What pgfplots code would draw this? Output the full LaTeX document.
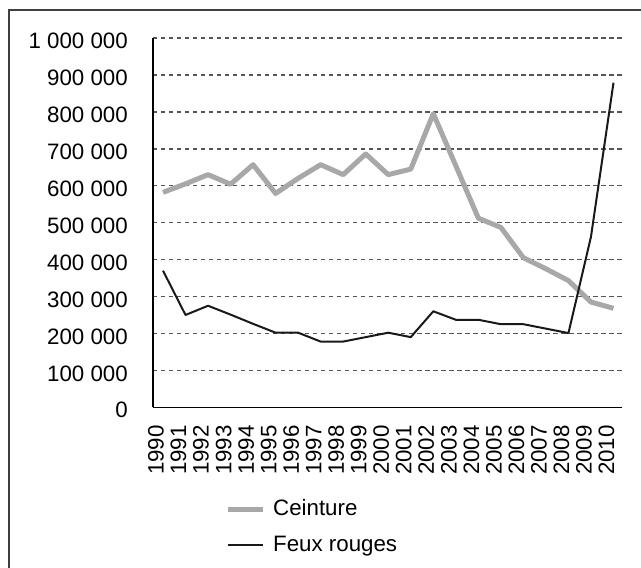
\documentclass[border=0pt]{standalone}
\usepackage{pgfplots}
\pgfplotsset{compat=1.18}
\usepackage{fontspec}
\setmainfont{Liberation Sans}
\definecolor{ceint}{RGB}{168,168,168}
\definecolor{gridc}{RGB}{85,85,85}
\definecolor{feux}{RGB}{25,25,25}
\begin{document}
\begin{tikzpicture}[font=\fontsize{22.3bp}{26bp}\selectfont]
\useasboundingbox (-153bp,-160.7bp) rectangle (488bp,407.3bp);
\draw[line width=1.5bp, black!75] (-144bp,-170bp) -- (-144bp,397.3bp) -- (500bp,397.3bp);
\begin{axis}[
  anchor=south west, at={(0bp,0bp)},
  scale only axis, width=469bp, height=369.3bp,
  xmin=1989.556, xmax=2010.377, ymin=0, ymax=1000000,
  scaled y ticks=false,
  axis x line*=bottom, axis y line*=left,
  axis line style={-, line width=1.5bp, black},
  major tick length=0pt, tick style={draw=none},
  ytick={0,100000,200000,300000,400000,500000,600000,700000,800000,900000,1000000},
  yticklabels={0,100 000,200 000,300 000,400 000,500 000,600 000,700 000,800 000,900 000,1 000 000},
  xtick={1990,1991,1992,1993,1994,1995,1996,1997,1998,1999,2000,2001,2002,2003,2004,2005,2006,2007,2008,2009,2010},
  xticklabels={1990,1991,1992,1993,1994,1995,1996,1997,1998,1999,2000,2001,2002,2003,2004,2005,2006,2007,2008,2009,2010},
  yticklabel style={anchor=east, inner sep=0pt, xshift=-25bp, yshift=-3bp},
  xticklabel style={inner sep=0pt, xshift=-7bp, yshift=-17.7bp, rotate=90, anchor=east},
  ymajorgrids,
  grid style={gridc, line width=1.5bp, dash pattern=on 4.5bp off 3.5bp},
  legend style={draw=none, fill=none, at={(0.1535,-0.2483)}, anchor=north west,
    inner sep=0pt, row sep=16bp,
    nodes={inner sep=0pt, text height=16bp, text depth=4bp},
    /tikz/every odd column/.append style={column sep=8bp}},
  legend cell align=left,
  legend image code/.code={\draw[#1] (0bp,0bp) -- (35bp,0bp);},
]
\addplot[ceint, line width=5bp, line join=round] coordinates {
(1990,582000) (1991,605000) (1992,630000) (1993,604000) (1994,657000)
(1995,579000) (1996,620000) (1997,657000) (1998,630000) (1999,686000)
(2000,630000) (2001,645000) (2002,795000) (2003,654000) (2004,512000)
(2005,487000) (2006,405000) (2007,375000) (2008,343000) (2009,285000)
(2010,268000)};
\addlegendentry{Ceinture}
\addplot[feux, line width=2bp, line join=round] coordinates {
(1990,370000) (1991,250000) (1992,275000) (1993,251000) (1994,226000)
(1995,202000) (1996,202000) (1997,178000) (1998,178000) (1999,190000)
(2000,202000) (2001,190000) (2002,260000) (2003,237000) (2004,237000)
(2005,225000) (2006,225000) (2007,213000) (2008,201000) (2009,462000)
(2010,879000)};
\addlegendentry{Feux rouges}
\end{axis}
\end{tikzpicture}
\end{document}
